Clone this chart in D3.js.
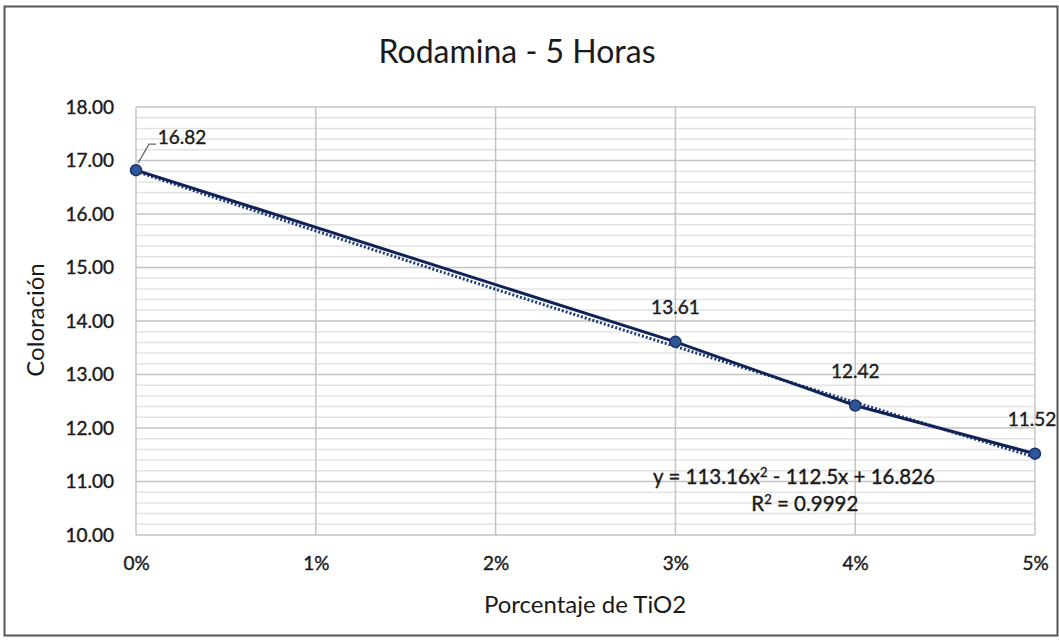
<!DOCTYPE html>
<html>
<head>
<meta charset="utf-8">
<script src="https://cdn.jsdelivr.net/npm/d3@7"></script>
<style>
  body { margin: 0; background: #fff; }
  text { font-family: Lato, "Open Sans", sans-serif; fill: #1a1a1a; }
</style>
</head>
<body>
<div id="chart-area"></div>
<script>
// data
const xValues = [0, 0.03, 0.04, 0.05]
const yValues = [16.82, 13.61, 12.42, 11.52]
const pointLabels = ["16.82", "13.61", "12.42", "11.52"]
const xTicks = [0, 0.01, 0.02, 0.03, 0.04, 0.05]
const yTicks = [10, 11, 12, 13, 14, 15, 16, 17, 18]
// trendline coefficients as printed on the chart
const trendCoef = [113.16, -112.5, 16.826]

function drawChart() {
    const svgWidth = 1059
    const svgHeight = 640
    const margin = { left: 136, right: 24, top: 107, bottom: 105 }
    const chartWidth = svgWidth - margin.left - margin.right
    const chartHeight = svgHeight - margin.top - margin.bottom

    const svg = d3.select("#chart-area")
        .append("svg")
        .attr("width", svgWidth)
        .attr("height", svgHeight)

    // outer border
    svg.append("rect")
        .attr("x", 4.5).attr("y", 6.5)
        .attr("width", svgWidth - 6).attr("height", svgHeight - 11)
        .attr("fill", "#fff")
        .attr("stroke", "#555")
        .attr("stroke-width", 2)

    const chart = svg.append("g")
        .attr("transform", `translate(${margin.left}, ${margin.top})`)

    const x = d3.scaleLinear().domain([0, 0.05]).range([0, chartWidth])
    const y = d3.scaleLinear().domain([10, 18]).range([chartHeight, 0])

    // minor horizontal grid
    const minor = d3.range(10, 18.001, 0.2).filter(v => Math.abs(v - Math.round(v)) > 0.01)
    chart.selectAll(".minor")
        .data(minor)
        .enter().append("line")
        .attr("x1", 0).attr("x2", chartWidth)
        .attr("y1", d => y(d)).attr("y2", d => y(d))
        .attr("stroke", "#e3e3e3")
        .attr("stroke-width", 1.5)

    // major grids
    chart.selectAll(".hmajor")
        .data(yTicks)
        .enter().append("line")
        .attr("x1", 0).attr("x2", chartWidth)
        .attr("y1", d => y(d)).attr("y2", d => y(d))
        .attr("stroke", "#c4c4c4")
        .attr("stroke-width", 1.5)

    chart.selectAll(".vmajor")
        .data(xTicks)
        .enter().append("line")
        .attr("x1", d => x(d)).attr("x2", d => x(d))
        .attr("y1", 0).attr("y2", chartHeight)
        .attr("stroke", "#c4c4c4")
        .attr("stroke-width", 1.5)

    // axes (labels only, Excel style)
    const yAxis = chart.append("g")
        .call(d3.axisLeft(y).tickValues(yTicks).tickFormat(d3.format(".2f")).tickSize(0).tickPadding(22))
    yAxis.select(".domain").remove()
    yAxis.selectAll("text")
        .style("font-size", "19px")
        .attr("fill", "#1a1a1a")
        .attr("stroke", "#1a1a1a")
        .attr("stroke-width", 0.4)

    const xAxis = chart.append("g")
        .attr("transform", `translate(0, ${chartHeight})`)
        .call(d3.axisBottom(x).tickValues(xTicks).tickFormat(d3.format(".0%")).tickSize(0).tickPadding(22))
    xAxis.select(".domain").remove()
    xAxis.selectAll("text")
        .style("font-size", "19px")
        .attr("fill", "#1a1a1a")
        .attr("stroke", "#1a1a1a")
        .attr("stroke-width", 0.4)

    // trendline (polynomial order 2)
    const trend = d3.range(0, 0.05001, 0.0005).map(v => [v, trendCoef[0] * v * v + trendCoef[1] * v + trendCoef[2]])
    chart.append("path")
        .datum(trend)
        .attr("d", d3.line().x(d => x(d[0])).y(d => y(d[1])))
        .attr("fill", "none")
        .attr("stroke", "#1f3a78")
        .attr("stroke-width", 3)
        .attr("stroke-dasharray", "2,2")
        .attr("transform", "translate(0,1.5)")

    // series line
    const pts = xValues.map((v, i) => [v, yValues[i]])
    chart.append("path")
        .datum(pts)
        .attr("d", d3.line().x(d => x(d[0])).y(d => y(d[1])))
        .attr("fill", "none")
        .attr("stroke", "#0f2357")
        .attr("stroke-width", 3)

    chart.selectAll(".pt")
        .data(pts)
        .enter().append("circle")
        .attr("cx", d => x(d[0]))
        .attr("cy", d => y(d[1]))
        .attr("r", 5.5)
        .attr("fill", "#2f5597")
        .attr("stroke", "#1a3170")
        .attr("stroke-width", 1.5)

    // data labels
    const labelOffset = [[46, -26], [0, -28], [0, -28], [-3, -28]]
    chart.selectAll(".lbl")
        .data(pts)
        .enter().append("text")
        .attr("x", (d, i) => x(d[0]) + labelOffset[i][0])
        .attr("y", (d, i) => y(d[1]) + labelOffset[i][1])
        .attr("text-anchor", "middle")
        .style("font-size", "19px")
        .attr("stroke", "#1a1a1a")
        .attr("stroke-width", 0.4)
        .text((d, i) => pointLabels[i])

    // leader line for first label
    chart.append("path")
        .attr("d", `M${x(0) + 2},${y(yValues[0]) - 7} L${x(0) + 13},${y(yValues[0]) - 26} L${x(0) + 20},${y(yValues[0]) - 26}`)
        .attr("fill", "none")
        .attr("stroke", "#666")
        .attr("stroke-width", 1.2)

    // equation
    const eq = chart.append("text")
        .attr("x", x(0.0366))
        .attr("y", y(10.95))
        .attr("text-anchor", "middle")
        .style("font-size", "20.5px")
        .attr("stroke", "#1a1a1a")
        .attr("stroke-width", 0.4)
    eq.append("tspan").text("y = 113.16x")
    eq.append("tspan").text("2").attr("dy", -7).style("font-size", "13px")
    eq.append("tspan").text(" - 112.5x + 16.826").attr("dy", 7)

    const r2 = chart.append("text")
        .attr("x", x(0.0372))
        .attr("y", y(10.45))
        .attr("text-anchor", "middle")
        .style("font-size", "20.5px")
        .attr("stroke", "#1a1a1a")
        .attr("stroke-width", 0.4)
    r2.append("tspan").text("R")
    r2.append("tspan").text("2").attr("dy", -7).style("font-size", "13px")
    r2.append("tspan").text(" = 0.9992").attr("dy", 7)

    // title
    svg.append("text")
        .attr("x", 517).attr("y", 63)
        .attr("text-anchor", "middle")
        .style("font-size", "32px")
        .text("Rodamina - 5 Horas")

    // axis titles
    svg.append("text")
        .attr("x", 585).attr("y", 613)
        .attr("text-anchor", "middle")
        .style("font-size", "24px")
        .text("Porcentaje de TiO2")

    svg.append("text")
        .attr("transform", `translate(44, 320) rotate(-90)`)
        .attr("text-anchor", "middle")
        .style("font-size", "24px")
        .text("Coloración")
}

drawChart()
</script>
</body>
</html>
